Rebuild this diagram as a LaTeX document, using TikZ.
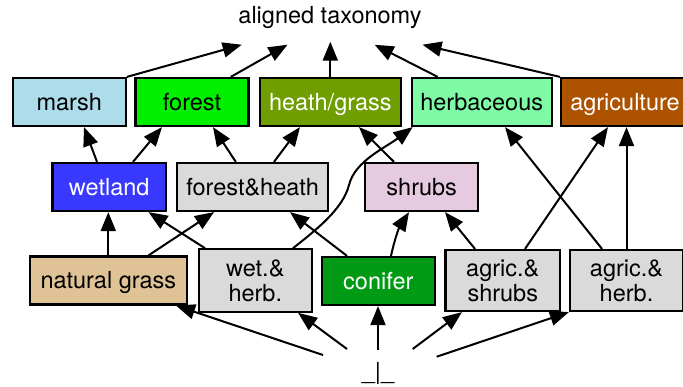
\documentclass[tikz,border=0pt]{standalone}
\usepackage{fontspec}
\setmainfont{TeX Gyre Heros}
\usetikzlibrary{arrows.meta}

\definecolor{marshcol}{HTML}{ADDCEA}
\definecolor{forestcol}{HTML}{00F000}
\definecolor{heathcol}{HTML}{6E9E00}
\definecolor{herbcol}{HTML}{7EFBA4}
\definecolor{agricol}{HTML}{AD5300}
\definecolor{wetcol}{HTML}{3838FF}
\definecolor{mixcol}{HTML}{DADADA}
\definecolor{shrubcol}{HTML}{E6CBE0}
\definecolor{grasscol}{HTML}{E0C297}
\definecolor{conifercol}{HTML}{009A14}

\begin{document}
\begin{tikzpicture}[x=1pt,y=-1pt]
  \tikzstyle{taxbox}=[draw=black,line width=2.2pt,inner sep=0pt,minimum height=48pt,align=center,font=\fontsize{23.5}{25}\selectfont];
  \tikzstyle{single}=[text height=16.5pt,text depth=0.5pt];
  \tikzstyle{link}=[line width=2pt,-{Triangle[length=19pt,width=15pt]}]

  \useasboundingbox (0,0) rectangle (683,386);

  \node[single,font=\fontsize{23.5}{25}\selectfont] (tax) at (330,15.5) {aligned taxonomy};

  % top level
  \node[taxbox,single,fill=marshcol,minimum width=113pt] (marsh) at (69.3,102) {marsh};
  \node[taxbox,single,fill=forestcol,minimum width=113pt] (forest) at (192,102) {forest};
  \node[taxbox,single,fill=heathcol,text=white,minimum width=140.7pt] (heath) at (330.3,102) {heath/grass};
  \node[taxbox,single,fill=herbcol,minimum width=140pt] (herb) at (481.7,102) {herbaceous};
  \node[taxbox,single,fill=agricol,text=white,minimum width=128pt] (agri) at (625,102) {agriculture};

  % middle level
  \node[taxbox,single,fill=wetcol,text=white,minimum width=113.6pt] (wetland) at (109.2,187) {wetland};
  \node[taxbox,single,fill=mixcol,minimum width=151.4pt] (fheath) at (252.6,187) {forest\&heath};
  \node[taxbox,single,fill=shrubcol,minimum width=113.3pt] (shrubs) at (421.7,187) {shrubs};

  % bottom level
  \node[taxbox,single,fill=grasscol,minimum width=156.7pt] (natgrass) at (108.3,280.5) {natural grass};
  \node[taxbox,fill=mixcol,minimum width=112.7pt,minimum height=62.4pt] (wetherb) at (255.3,280.5) {wet.\&\\herb.};
  \node[taxbox,single,fill=conifercol,text=white,minimum width=113.3pt] (conifer) at (378.3,281) {conifer};
  \node[taxbox,fill=mixcol,minimum width=114.5pt,minimum height=61pt] (agshrub) at (502.8,280.5) {agric.\&\\shrubs};
  \node[taxbox,fill=mixcol,minimum width=113pt,minimum height=61pt] (agherb) at (626.5,280.5) {agric.\&\\herb.};

  \node[single,font=\fontsize{23.5}{25}\selectfont,inner sep=0pt,minimum height=42pt] (bot) at (378,371) {\_|\_};

  % into the aligned taxonomy
  \draw[link] (marsh.north east) -- ([xshift=-88.3pt,yshift=-17.2pt]tax.south);
  \draw[link] ([xshift=38.8pt]forest.north) -- ([xshift=-42.5pt,yshift=-17.2pt]tax.south);
  \draw[link] (heath.north) -- (heath.north |- 0,41.7);
  \draw[link] ([xshift=-44pt]herb.north) -- ([xshift=44.6pt,yshift=-17.2pt]tax.south);
  \draw[link] (agri.north west) -- ([xshift=92.5pt,yshift=-17.2pt]tax.south);

  % middle -> top
  \draw[link] ([xshift=-12.2pt]wetland.north) -- ([xshift=14.7pt]marsh.south);
  \draw[link] ([xshift=23.8pt]wetland.north) -- ([xshift=-30pt]forest.south);
  \draw[link] ([xshift=-16.8pt]fheath.north) -- ([xshift=21pt]forest.south);
  \draw[link] ([xshift=21.4pt]fheath.north) -- ([xshift=-30.3pt]heath.south);
  \draw[link] ([xshift=-27.7pt]shrubs.north) -- ([xshift=28.7pt]heath.south);

  % bottom -> top
  \draw[link] ([xshift=37.7pt]wetherb.north) .. controls (316,230) and (343,209) .. (349,185)
    .. controls (355,161) and (385,148) .. ([xshift=2pt]herb.south west);
  \draw[link] ([xshift=22.2pt]agshrub.north) -- ([xshift=-17pt]agri.south);
  \draw[link] ([xshift=-24.5pt]agherb.north) -- ([xshift=23.3pt]herb.south);
  \draw[link] (agherb.north) -- (agherb.north |- agri.south);

  % bottom -> middle
  \draw[link] ([xshift=-27.8pt]agshrub.north) -- ([xshift=23.3pt]shrubs.south);
  \draw[link] (natgrass.north) -- (natgrass.north |- wetland.south);
  \draw[link] ([xshift=40.2pt]natgrass.north) -- ([xshift=-38.6pt]fheath.south);
  \draw[link] ([xshift=-50.3pt]wetherb.north) -- ([xshift=39.3pt]wetland.south);
  \draw[link] ([xshift=-31.3pt]conifer.north) -- ([xshift=37.4pt]fheath.south);
  \draw[link] ([xshift=12.7pt]conifer.north) to[bend left=10] ([xshift=-12.7pt]shrubs.south);

  % from the bottom element
  \draw[link] ([xshift=-55pt,yshift=16pt]bot.center) -- ([xshift=-11.7pt]natgrass.south east);
  \draw[link] ([xshift=-31pt,yshift=22pt]bot.center) -- ([xshift=-14.7pt]wetherb.south east);
  \draw[link] (bot.north) -- (bot.north |- conifer.south);
  \draw[link] ([xshift=34.7pt,yshift=22pt]bot.center) -- ([xshift=17.5pt]agshrub.south west);
  \draw[link] ([xshift=58.7pt,yshift=14.3pt]bot.center) -- (agherb.south west);

\end{tikzpicture}
\end{document}
